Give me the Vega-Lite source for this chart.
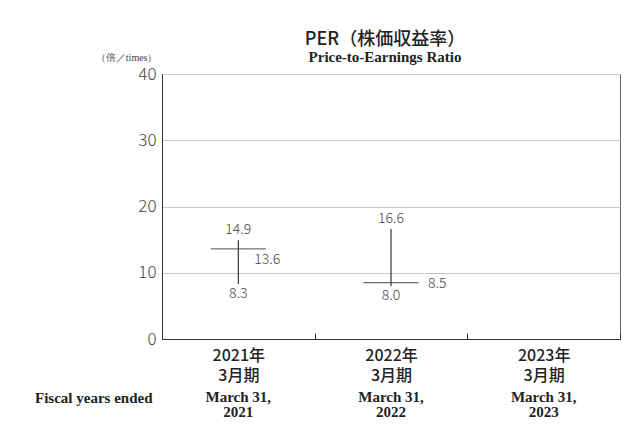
{
  "$schema": "https://vega.github.io/schema/vega-lite/v6.json",
  "width": 458,
  "height": 265,
  "autosize": "none",
  "padding": {"left": 162, "top": 74, "right": 22, "bottom": 89},
  "background": "white",
  "title": {
    "text": "PER（株価収益率）",
    "subtitle": "Price-to-Earnings Ratio",
    "font": "Noto Sans CJK JP",
    "fontSize": 18,
    "fontWeight": 500,
    "color": "#222",
    "subtitleFont": "Liberation Serif",
    "subtitleFontSize": 15,
    "subtitleFontWeight": "bold",
    "subtitleColor": "#222",
    "subtitlePadding": 1,
    "anchor": "middle",
    "frame": "group",
    "offset": -13,
    "dx": -6
  },
  "data": {
    "values": [
      {"year": "2021", "high": 14.9, "low": 8.3, "close": 13.6},
      {"year": "2022", "high": 16.6, "low": 8.0, "close": 8.5},
      {"year": "2023", "high": null, "low": null, "close": null}
    ]
  },
  "config": {
    "view": {"stroke": "#666", "strokeWidth": 1},
    "axis": {"labelColor": "#333", "titleColor": "#333"}
  },
  "resolve": {"axis": {"x": "independent"}},
  "layer": [
    {
      "mark": {"type": "rule", "color": "#333", "strokeWidth": 1.2},
      "encoding": {
        "x": {
          "field": "year",
          "type": "nominal",
          "scale": {"domain": ["2021", "2022", "2023"], "paddingInner": 0, "paddingOuter": 0},
          "axis": {
            "title": null,
            "labelAngle": 0,
            "labelExpr": "datum.value ? [datum.value + '年', '3月期'] : ''",
            "labelFont": "Noto Sans CJK JP",
            "labelFontSize": 16,
            "labelFontWeight": 500,
            "labelColor": "#222",
            "labelLineHeight": 20,
            "labelPadding": 14,
            "labelBaseline": "top",
            "tickBand": "extent",
            "tickSize": -6,
            "tickColor": "#333",
            "domainColor": "#333",
            "domainWidth": 1.2
          }
        },
        "y": {
          "field": "low",
          "type": "quantitative",
          "scale": {"domain": [0, 40], "nice": false},
          "axis": {
            "values": [0, 10, 20, 30, 40],
            "grid": true,
            "gridColor": "#c8c8c8",
            "ticks": false,
            "domainColor": "#333",
            "labelFont": "Noto Sans CJK JP",
            "labelFontWeight": 300,
            "labelFontSize": 17,
            "labelColor": "#444",
            "labelPadding": 6,
            "title": "（倍／times）",
            "titleFont": "Liberation Serif",
            "titleFontSize": 10,
            "titleFontWeight": "normal",
            "titleColor": "#444",
            "titleAngle": 0,
            "titleAlign": "right",
            "titleBaseline": "middle",
            "titleX": -5,
            "titleY": -17
          }
        },
        "y2": {"field": "high"}
      }
    },
    {
      "mark": {"type": "tick", "color": "#333", "thickness": 1.2, "size": 55},
      "encoding": {
        "x": {
          "field": "year",
          "type": "nominal",
          "axis": {
            "title": "Fiscal years ended",
            "titleFont": "Liberation Serif",
            "titleFontSize": 15,
            "titleFontWeight": "bold",
            "titleColor": "#222",
            "titleAlign": "right",
            "titleBaseline": "middle",
            "titleAngle": 0,
            "titleX": -10,
            "titleY": 58,
            "orient": "bottom",
            "offset": 0,
            "domain": false,
            "ticks": false,
            "grid": false,
            "labelAngle": 0,
            "labelExpr": "['March 31,', datum.value]",
            "labelFont": "Liberation Serif",
            "labelFontSize": 15,
            "labelFontWeight": "bold",
            "labelColor": "#222",
            "labelLineHeight": 15,
            "labelBaseline": "top",
            "labelPadding": 50
          }
        },
        "y": {"field": "close", "type": "quantitative"}
      }
    },
    {
      "mark": {"type": "text", "baseline": "bottom", "dy": -3, "font": "Noto Sans CJK JP", "fontWeight": 300, "fontSize": 14, "color": "#444"},
      "encoding": {
        "x": {"field": "year", "type": "nominal", "axis": null},
        "y": {"field": "high", "type": "quantitative"},
        "text": {"field": "high", "type": "quantitative", "format": ".1f"}
      }
    },
    {
      "mark": {"type": "text", "baseline": "top", "dy": 3, "font": "Noto Sans CJK JP", "fontWeight": 300, "fontSize": 14, "color": "#444"},
      "encoding": {
        "x": {"field": "year", "type": "nominal", "axis": null},
        "y": {"field": "low", "type": "quantitative"},
        "text": {"field": "low", "type": "quantitative", "format": ".1f"}
      }
    },
    {
      "transform": [{"filter": "datum.year == '2021'"}],
      "mark": {"type": "text", "align": "left", "baseline": "middle", "dx": 16, "dy": 11, "font": "Noto Sans CJK JP", "fontWeight": 300, "fontSize": 14, "color": "#444"},
      "encoding": {
        "x": {"field": "year", "type": "nominal", "axis": null},
        "y": {"field": "close", "type": "quantitative"},
        "text": {"field": "close", "type": "quantitative", "format": ".1f"}
      }
    },
    {
      "transform": [{"filter": "datum.year == '2022'"}],
      "mark": {"type": "text", "align": "left", "baseline": "middle", "dx": 37, "dy": 1, "font": "Noto Sans CJK JP", "fontWeight": 300, "fontSize": 14, "color": "#444"},
      "encoding": {
        "x": {"field": "year", "type": "nominal", "axis": null},
        "y": {"field": "close", "type": "quantitative"},
        "text": {"field": "close", "type": "quantitative", "format": ".1f"}
      }
    }
  ]
}
